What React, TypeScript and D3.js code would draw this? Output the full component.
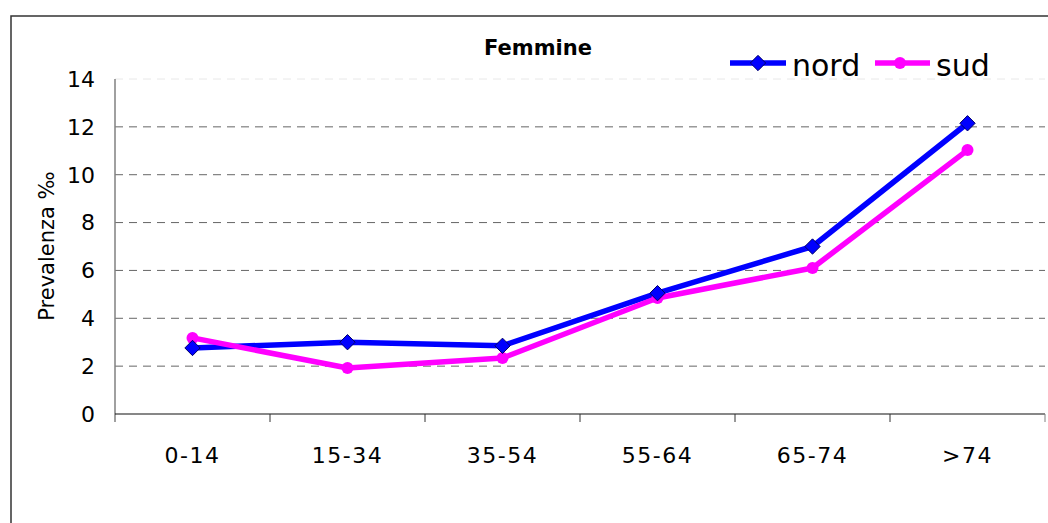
import React from 'react';
import * as d3 from 'd3';

const categories = ['0-14', '15-34', '35-54', '55-64', '65-74', '>74'];
const nord = [2.76, 3.0, 2.85, 5.05, 7.0, 12.15];
const sud = [3.18, 1.92, 2.34, 4.85, 6.1, 11.03];
const yTicks = [0, 2, 4, 6, 8, 10, 12, 14];

const W = 1048, H = 523;
const left = 115, right = 1045, top = 79, bottom = 414;
const font = 'Verdana, "DejaVu Sans", sans-serif';

export default function App() {
  const x = d3.scaleBand().domain(categories).range([left, right]);
  const y = d3.scaleLinear().domain([0, 14]).range([bottom, top]);
  const cx = (c) => x(c) + x.bandwidth() / 2;

  const line = d3.line().x((d, i) => cx(categories[i])).y(d => y(d));
  const diamond = d3.symbol().type(d3.symbolDiamond2).size(150);

  return (
    <svg width={W} height={H} style={{ position: 'absolute', left: 0, top: 0 }} fontFamily={font}>
      <rect x={0} y={0} width={W} height={H} fill="white" />
      <rect x={11} y={16} width={W + 20} height={H + 20} fill="none" stroke="#333" strokeWidth={1.5} />

      {/* grid */}
      {yTicks.filter(t => t > 0).map(t => (
        <line key={t} x1={left} x2={right} y1={y(t)} y2={y(t)}
          stroke={t === 14 ? '#e8e8e8' : '#666'} strokeWidth={1} strokeDasharray="8,6" />
      ))}

      {/* y axis */}
      <line x1={left} x2={left} y1={top} y2={bottom + 8} stroke="#808080" strokeWidth={1.5} />
      {yTicks.map(t => (
        <text key={t} x={left - 20} y={y(t)} dy="0.36em" textAnchor="end" fontSize={22}>{t}</text>
      ))}

      {/* x axis */}
      <line x1={left} x2={right} y1={bottom} y2={bottom} stroke="#111" strokeWidth={1.2} />
      {categories.map((c, i) => (
        <line key={c} x1={x(c) + x.bandwidth()} x2={x(c) + x.bandwidth()} y1={bottom} y2={bottom + 8}
          stroke={i === categories.length - 1 ? '#808080' : '#333'} strokeWidth={1} />
      ))}
      {categories.map(c => (
        <text key={c} x={cx(c)} y={455} dy="0.36em" textAnchor="middle" fontSize={22} letterSpacing={1.5}>{c}</text>
      ))}

      <text transform={`translate(54,246) rotate(-90)`} textAnchor="middle" fontSize={21}>Prevalenza ‰</text>
      <text x={538} y={47} dy="0.36em" textAnchor="middle" fontSize={21} fontWeight="bold">Femmine</text>

      {/* lines */}
      <path d={line(nord)} fill="none" stroke="#0000ff" strokeWidth={5.5} strokeLinejoin="round" />
      <path d={line(sud)} fill="none" stroke="#ff00ff" strokeWidth={5.5} strokeLinejoin="round" />
      {sud.map((v, i) => (
        <circle key={i} cx={cx(categories[i])} cy={y(v)} r={6} fill="#ff00ff" />
      ))}
      {nord.map((v, i) => (
        <path key={i} d={diamond()} transform={`translate(${cx(categories[i])},${y(v)})`}
          fill="#0000ff" stroke="#000066" strokeWidth={1} />
      ))}

      {/* legend */}
      <line x1={730} x2={786} y1={63} y2={63} stroke="#0000ff" strokeWidth={5.5} />
      <path d={diamond()} transform="translate(758,63)" fill="#0000ff" stroke="#000066" strokeWidth={1} />
      <text x={792} y={65} dy="0.36em" fontSize={30}>nord</text>
      <line x1={875} x2={930} y1={63} y2={63} stroke="#ff00ff" strokeWidth={5.5} />
      <circle cx={900} cy={63} r={6} fill="#ff00ff" />
      <text x={936} y={65} dy="0.36em" fontSize={30}>sud</text>
    </svg>
  );
}
